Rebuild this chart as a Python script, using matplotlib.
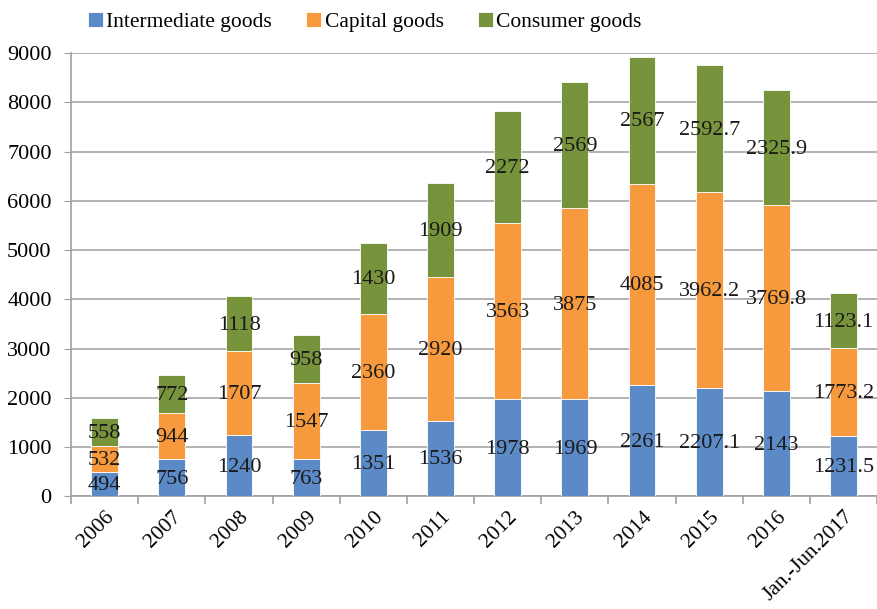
import numpy as np
import matplotlib.pyplot as plt

years = ['2006', '2007', '2008', '2009', '2010', '2011', '2012', '2013',
         '2014', '2015', '2016', 'Jan.-Jun.2017']
intermediate = [494, 756, 1240, 763, 1351, 1536, 1978, 1969, 2261, 2207.1, 2143, 1231.5]
capital = [532, 944, 1707, 1547, 2360, 2920, 3563, 3875, 4085, 3962.2, 3769.8, 1773.2]
consumer = [558, 772, 1118, 958, 1430, 1909, 2272, 2569, 2567, 2592.7, 2325.9, 1123.1]

series = [('Intermediate goods', intermediate, '#5B8AC6'),
          ('Capital goods', capital, '#F79A3E'),
          ('Consumer goods', consumer, '#77933C')]

plt.rcParams['font.family'] = ['Liberation Serif', 'DejaVu Serif']

fig = plt.figure(figsize=(8.78, 6.09), dpi=100)
ax = fig.add_axes([0.081, 0.185, 0.918, 0.728])

x = np.arange(len(years))
bottom = np.zeros(len(years))
for name, vals, col in series:
    vals = np.array(vals)
    ax.bar(x, vals, 0.4, bottom=bottom, color=col, label=name,
           edgecolor='white', linewidth=0.6, zorder=3)
    for xi, b, v in zip(x, bottom, vals):
        txt = '{:g}'.format(v)
        ax.text(xi, b + v / 2 - 30, txt, ha='center', va='center',
                fontsize=16, color='#1a1a1a', zorder=4)
    bottom += vals

ax.set_xlim(-0.5, len(years) - 0.5)
ax.set_ylim(0, 9000)
ax.set_yticks(range(0, 9001, 1000))
ax.tick_params(axis='y', labelsize=16, length=5, color='#a0a0a0', pad=9)
ax.yaxis.grid(True, color='#a6a6a6', linewidth=1.2, zorder=0)

# category ticks sit between the bars
ax.set_xticks(x)
ax.set_xticklabels(years, rotation=45, ha='right', rotation_mode='anchor', fontsize=15.5)
ax.set_xticks(np.arange(-0.5, len(years), 1), minor=True)
ax.tick_params(axis='x', which='major', length=0, pad=8)
ax.tick_params(axis='x', which='minor', length=6, color='#a0a0a0', width=1.2)

for s in ['top', 'right']:
    ax.spines[s].set_visible(False)
for s in ['left', 'bottom']:
    ax.spines[s].set_color('#a0a0a0')
    ax.spines[s].set_linewidth(1.2)

fig.legend(loc='upper left', bbox_to_anchor=(0.078, 1.012), ncol=3, frameon=False,
           fontsize=15.5, handlelength=0.7, handleheight=0.7, handletextpad=0.15,
           columnspacing=1.6)

fig.savefig('out.png', dpi=100)
